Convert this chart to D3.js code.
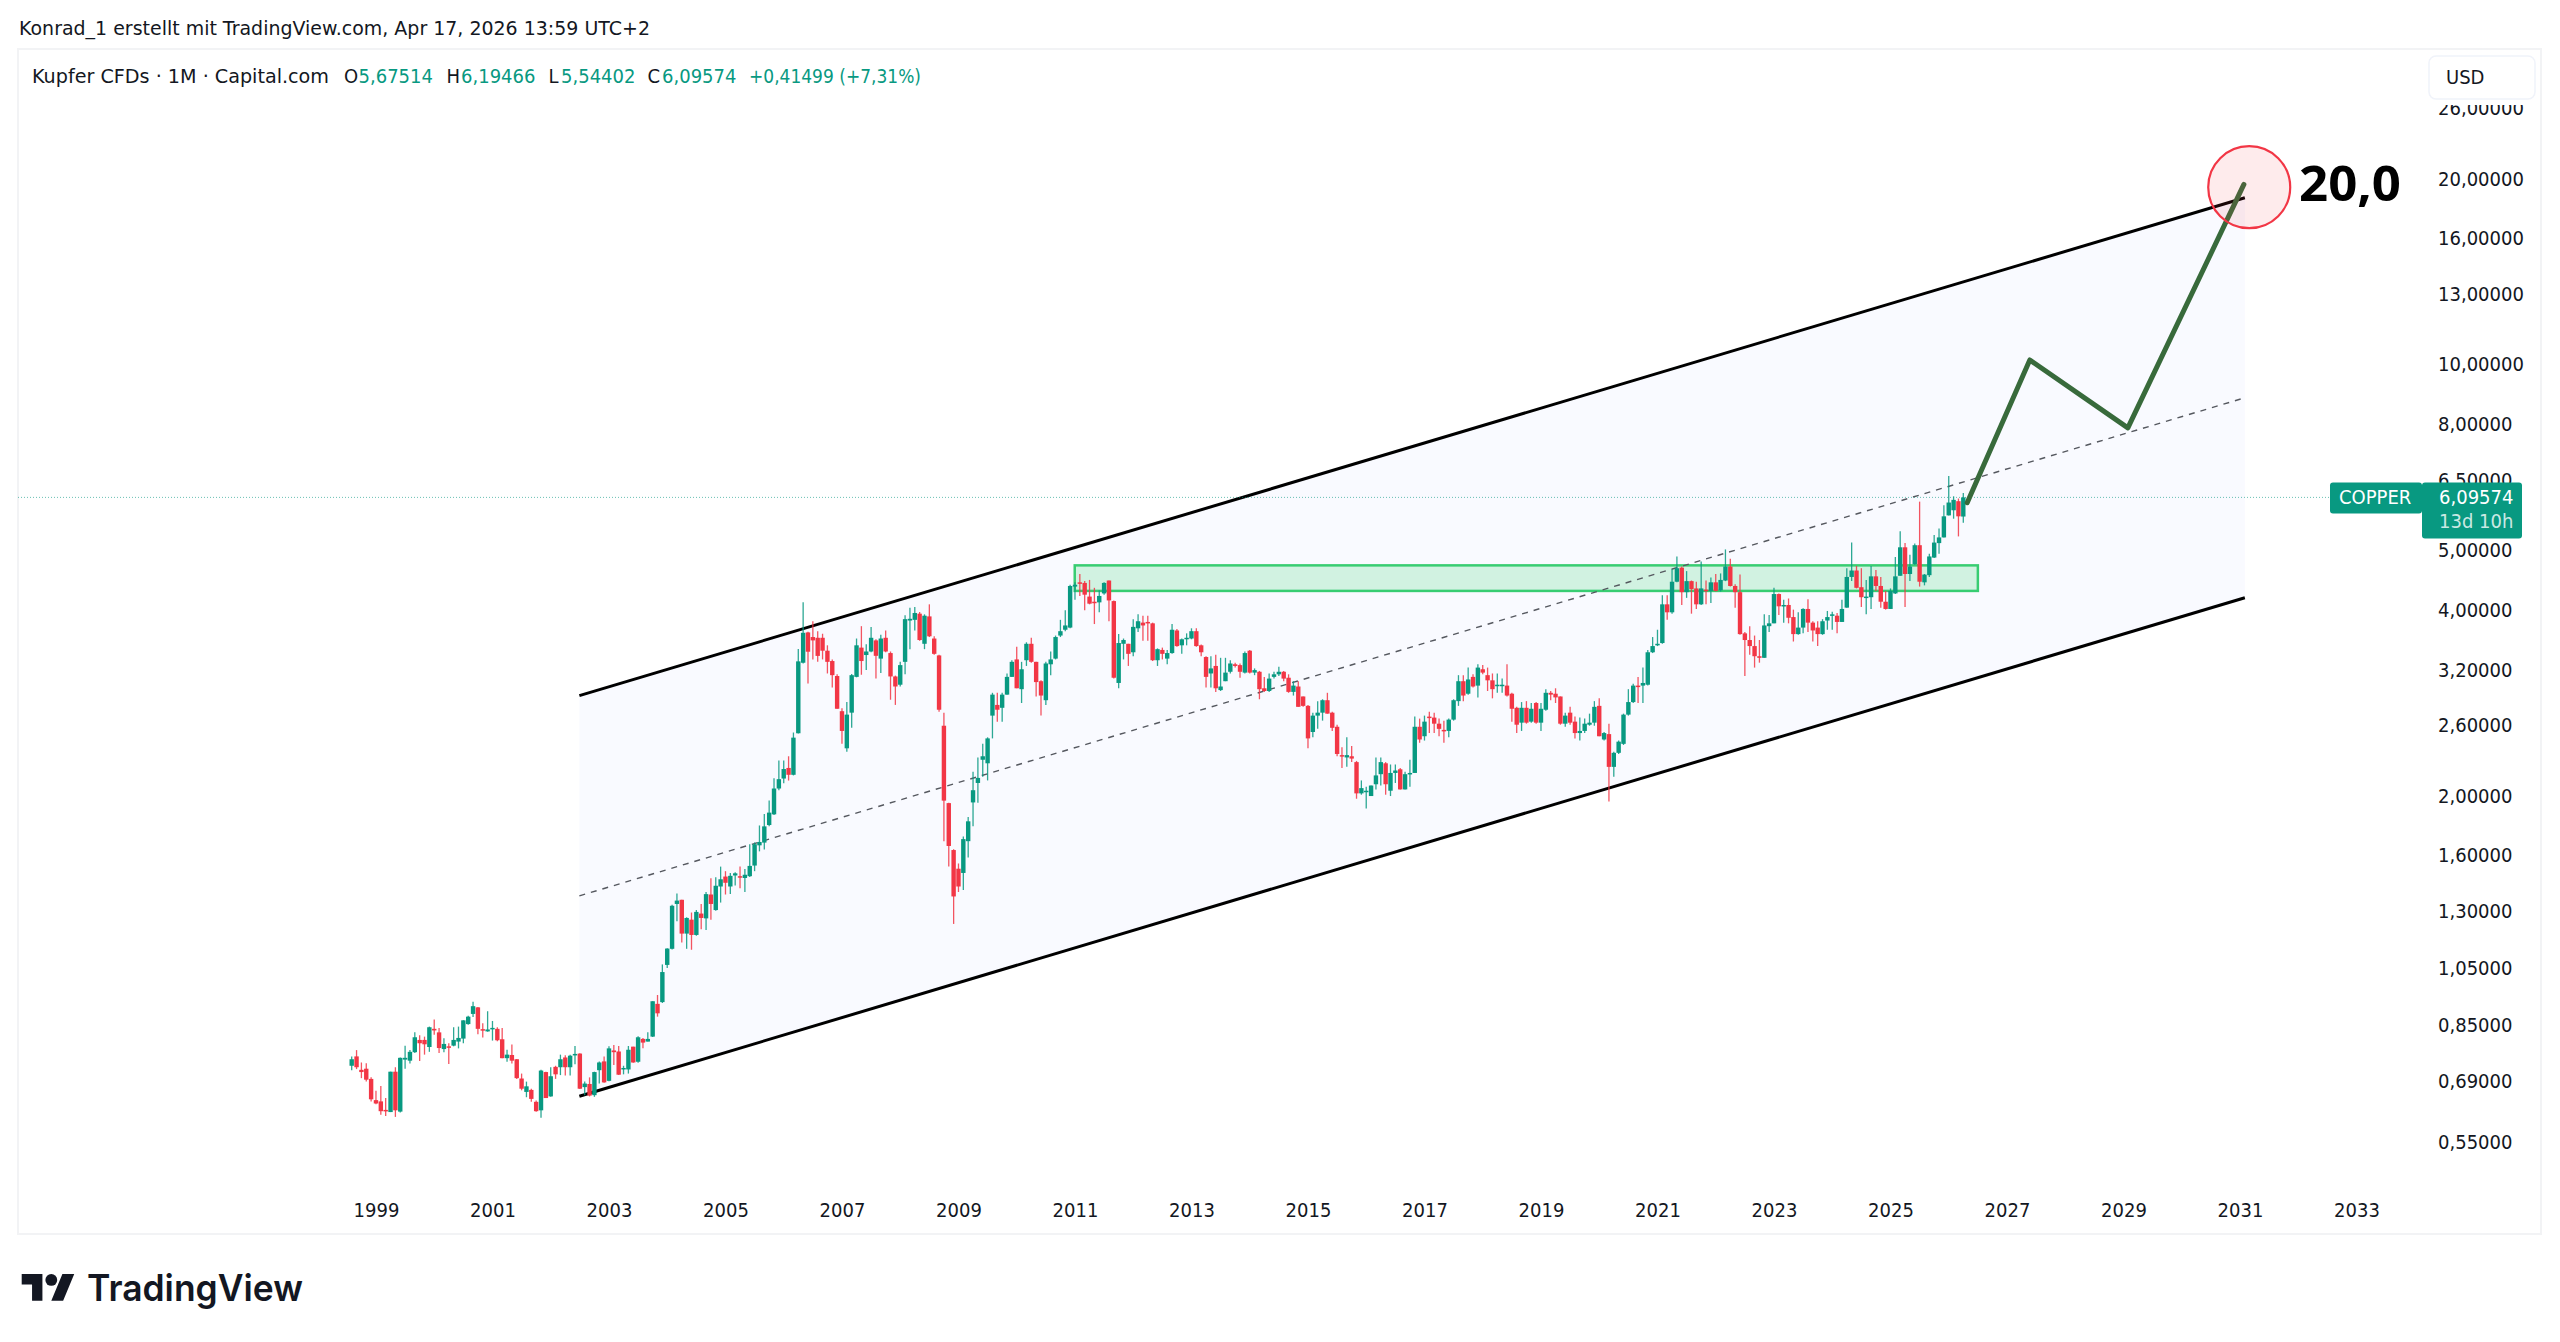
<!DOCTYPE html>
<html>
<head>
<meta charset="utf-8">
<title>Kupfer CFDs</title>
<script src="https://cdn.jsdelivr.net/npm/d3@7/dist/d3.min.js"></script>
<style>
html,body{margin:0;padding:0;background:#fff;}
svg{display:block;}
text{font-family:"DejaVu Sans",sans-serif;fill:#131722;}
</style>
</head>
<body>
<div id="chart"></div>
<script>
// Monthly copper candles, Aug 1998 to Apr 2026 (one entry per month)
const opens = [
.731,.757,.720,.723,.696,.643,.640,.620,.615,.715,
.616,.748,.745,.769,.805,.805,.784,.839,.828,.778,
.786,.788,.800,.809,.854,.887,.909,.838,.831,.839,
.839,.807,.752,.761,.749,.697,.663,.668,.639,.619,
.714,.652,.728,.727,.754,.727,.761,.765,.675,.683,
.655,.719,.743,.691,.774,.771,.722,.721,.785,.742,
.808,.800,.815,.921,.927,1.065,1.131,1.337,1.358,1.197,
1.261,1.191,1.290,1.267,1.385,1.307,1.427,1.481,1.427,1.487,
1.483,1.473,1.483,1.543,1.664,1.681,1.795,1.868,2.057,2.135,
2.221,2.165,2.528,3.289,3.683,3.62,3.61,3.61,3.44,3.31,
3.13,2.745,2.39,2.73,3.12,3.48,3.385,3.43,3.575,3.34,
3.61,3.41,3.125,3.03,3.30,3.85,3.86,3.95,3.53,3.91,
3.60,3.38,2.60,1.948,1.635,1.525,1.501,1.69,1.953,2.10,
2.29,2.26,2.70,2.81,2.78,2.92,3.12,3.33,2.98,3.32,
3.53,3.30,3.07,2.86,3.27,3.34,3.64,3.72,3.75,4.37,
4.44,4.43,4.21,4.13,4.12,4.26,4.47,4.14,3.05,3.53,
3.53,3.42,3.74,3.82,3.83,3.81,3.32,3.45,3.34,3.41,
3.71,3.51,3.60,3.60,3.70,3.51,3.36,3.16,3.25,2.97,
3.07,3.18,3.27,3.26,3.17,3.44,3.17,3.18,2.99,2.96,
3.12,3.15,3.18,3.11,2.95,3.01,2.90,2.80,2.54,2.70,
2.73,2.86,2.73,2.59,2.33,2.31,2.32,2.27,2.02,2.04,
2.00,2.09,2.17,2.26,2.04,2.18,2.21,2.05,2.17,2.18,
2.59,2.50,2.69,2.68,2.62,2.56,2.55,2.66,2.85,3.07,
2.93,3.12,3.02,3.21,3.14,3.08,3.02,3.02,3.02,2.93,
2.78,2.63,2.78,2.64,2.83,2.63,2.76,2.94,2.93,2.90,
2.62,2.73,2.64,2.53,2.55,2.61,2.63,2.80,2.47,2.52,
2.23,2.35,2.43,2.71,2.84,3.02,3.02,3.03,3.42,3.51,
3.54,4.09,3.97,4.45,4.69,4.28,4.46,4.34,4.09,4.32,
4.30,4.44,4.31,4.47,4.71,4.38,4.28,3.67,3.58,3.50,
3.37,3.35,3.77,3.81,4.25,4.07,4.08,3.90,3.66,3.75,
4.02,3.82,3.75,3.66,3.85,3.92,3.92,3.83,4.04,4.53,
4.64,4.36,4.20,4.20,4.54,4.38,4.13,4.02,4.26,4.55,
5.06,4.58,4.75,5.10,4.44,4.56,4.87,5.14,5.25,5.70,
5.81,6.01,5.67514];
const highs = [
.757,.775,.740,.738,.700,.666,.678,.648,.715,.727,
.754,.788,.775,.828,.819,.815,.846,.869,.842,.810,
.795,.844,.846,.866,.881,.928,.910,.857,.896,.864,
.844,.842,.776,.791,.750,.710,.689,.671,.642,.720,
.715,.727,.731,.762,.760,.762,.787,.766,.689,.700,
.715,.743,.757,.786,.790,.787,.731,.787,.785,.816,
.811,.828,.930,.952,1.067,1.133,1.333,1.390,1.358,1.272,
1.295,1.307,1.337,1.398,1.472,1.477,1.537,1.511,1.501,1.505,
1.537,1.523,1.671,1.682,1.792,1.87,1.967,2.137,2.283,2.283,
2.32,2.535,3.462,4.123,3.692,3.84,3.70,3.665,3.51,3.33,
3.15,2.775,2.84,3.155,3.60,3.77,3.525,3.76,3.59,3.65,
3.71,3.43,3.135,3.30,3.925,4.04,4.05,3.975,3.94,4.09,
3.63,3.39,2.73,1.95,1.64,1.555,1.72,1.85,2.19,2.31,
2.43,2.49,2.94,2.94,2.94,3.16,3.32,3.49,3.30,3.55,
3.61,3.30,3.08,3.30,3.43,3.64,3.86,4.00,4.40,4.44,
4.58,4.46,4.48,4.35,4.31,4.44,4.47,4.15,3.66,3.60,
3.53,3.87,3.94,3.92,3.92,3.82,3.47,3.48,3.45,3.80,
3.73,3.60,3.67,3.74,3.74,3.52,3.37,3.37,3.39,3.35,
3.35,3.32,3.29,3.28,3.43,3.45,3.22,3.19,3.12,3.16,
3.18,3.24,3.19,3.15,3.07,3.07,2.90,2.81,2.73,2.85,
2.87,2.94,2.74,2.61,2.40,2.49,2.41,2.28,2.12,2.07,
2.08,2.31,2.31,2.27,2.25,2.25,2.22,2.19,2.29,2.69,
2.67,2.70,2.74,2.73,2.67,2.65,2.67,2.87,3.14,3.14,
3.23,3.15,3.27,3.26,3.23,3.16,3.16,3.10,3.27,2.94,
2.79,2.84,2.85,2.83,2.84,2.83,2.98,2.96,2.99,2.90,
2.73,2.79,2.69,2.68,2.67,2.72,2.85,2.88,2.54,2.62,
2.36,2.46,2.72,2.98,3.04,3.12,3.23,3.45,3.62,3.72,
4.23,4.23,4.66,4.89,4.71,4.63,4.47,4.45,4.80,4.47,
4.52,4.58,4.59,5.02,4.85,4.41,4.57,3.69,3.77,3.64,
3.58,3.94,3.93,4.35,4.26,4.16,4.18,4.01,3.97,4.03,
4.17,3.84,3.84,3.87,3.99,3.98,3.96,4.16,4.68,5.15,
4.72,4.68,4.48,4.72,4.65,4.53,4.30,4.34,4.88,5.37,
5.14,4.92,5.13,6.00,4.58,4.94,5.30,5.43,5.92,6.60,
6.12,6.07,6.19466];
const lows = [
.719,.722,.698,.689,.640,.633,.609,.606,.615,.604,
.614,.723,.737,.767,.744,.762,.770,.821,.767,.769,
.736,.786,.780,.795,.852,.877,.822,.812,.830,.803,
.801,.752,.742,.737,.696,.667,.650,.639,.616,.602,
.648,.651,.696,.706,.705,.705,.735,.670,.655,.652,
.651,.684,.686,.690,.733,.706,.708,.710,.739,.739,
.780,.800,.814,.878,.924,1.053,1.128,1.254,1.158,1.131,
1.127,1.188,1.217,1.213,1.261,1.304,1.344,1.385,1.388,1.432,
1.418,1.398,1.479,1.511,1.627,1.638,1.786,1.864,2.044,2.097,
2.119,2.16,2.525,3.28,3.044,3.33,3.30,3.33,3.16,3.0,
2.77,2.43,2.36,2.58,3.115,3.145,3.20,3.42,3.10,3.165,
3.42,2.865,2.81,3.01,3.15,3.46,3.71,3.57,3.46,3.62,
3.39,2.74,1.69,1.537,1.241,1.398,1.408,1.59,1.786,1.95,
2.15,2.12,2.48,2.64,2.64,2.92,3.12,2.99,2.83,3.25,
3.29,2.90,2.70,2.81,3.14,3.33,3.62,3.70,3.74,4.16,
4.22,4.00,4.09,3.80,3.97,4.24,3.84,3.10,2.99,3.33,
3.25,3.37,3.69,3.57,3.57,3.31,3.25,3.33,3.27,3.40,
3.49,3.40,3.51,3.59,3.49,3.37,3.00,3.00,2.95,2.96,
3.07,3.16,3.23,3.11,3.16,3.16,3.14,2.87,2.95,2.95,
3.10,3.13,3.07,2.94,2.91,2.79,2.79,2.39,2.49,2.57,
2.65,2.72,2.55,2.32,2.22,2.23,2.27,1.98,2.01,1.91,
2.00,2.05,2.08,2.01,2.00,2.10,2.05,2.05,2.07,2.18,
2.44,2.46,2.53,2.53,2.50,2.44,2.49,2.65,2.80,2.85,
2.92,3.00,2.89,3.15,2.96,2.88,2.94,2.94,2.90,2.64,
2.53,2.55,2.62,2.63,2.62,2.55,2.75,2.86,2.83,2.61,
2.59,2.61,2.48,2.46,2.53,2.60,2.60,2.50,2.46,1.96,
2.15,2.34,2.42,2.70,2.83,2.83,2.83,3.02,3.41,3.50,
3.53,3.86,3.95,4.44,4.08,4.19,3.95,4.02,4.08,4.09,
4.11,4.29,4.29,4.46,4.37,4.04,3.65,3.13,3.39,3.23,
3.29,3.35,3.69,3.81,3.93,3.82,3.81,3.56,3.65,3.67,
3.69,3.56,3.50,3.65,3.72,3.72,3.67,3.83,4.04,4.46,
4.34,4.05,3.94,4.02,4.30,4.04,4.01,4.02,4.25,4.55,
4.05,4.46,4.74,4.37,4.39,4.53,4.86,4.94,5.25,5.70,
5.63,5.27,5.54402];
const closes = [
.749,.727,.714,.694,.645,.635,.617,.619,.715,.619,
.753,.753,.770,.813,.795,.792,.844,.834,.781,.793,
.783,.805,.811,.866,.878,.913,.839,.834,.837,.842,
.804,.752,.762,.745,.698,.671,.677,.646,.617,.718,
.648,.703,.708,.749,.727,.759,.764,.671,.684,.654,
.714,.740,.687,.780,.769,.707,.725,.776,.740,.813,
.797,.808,.930,.889,1.037,1.132,1.328,1.354,1.197,1.269,
1.191,1.298,1.269,1.387,1.337,1.431,1.466,1.447,1.485,1.499,
1.479,1.491,1.541,1.671,1.685,1.786,1.880,2.057,2.130,2.212,
2.165,2.487,3.306,3.678,3.427,3.575,3.374,3.44,3.30,3.14,
2.77,2.55,2.71,3.14,3.51,3.31,3.43,3.61,3.375,3.60,
3.43,3.125,3.01,3.26,3.87,3.875,3.96,3.58,3.92,3.63,
3.40,2.76,1.966,1.66,1.375,1.427,1.703,1.82,2.044,2.14,
2.32,2.48,2.92,2.76,2.92,3.12,3.30,2.99,3.21,3.53,
3.30,3.06,2.91,3.28,3.33,3.62,3.70,3.78,4.38,4.40,
4.43,4.24,4.10,4.12,4.22,4.43,4.15,3.11,3.54,3.58,
3.40,3.76,3.84,3.78,3.81,3.32,3.46,3.40,3.41,3.72,
3.50,3.59,3.61,3.70,3.50,3.42,3.12,3.22,2.99,3.01,
3.17,3.28,3.25,3.18,3.41,3.17,3.20,2.98,2.96,3.10,
3.15,3.18,3.10,2.95,3.02,2.79,2.80,2.48,2.70,2.73,
2.86,2.72,2.58,2.34,2.32,2.33,2.30,2.02,2.06,2.04,
2.08,2.16,2.27,2.09,2.18,2.20,2.05,2.17,2.18,2.59,
2.47,2.64,2.68,2.62,2.57,2.55,2.66,2.86,3.07,2.91,
3.09,3.01,3.23,3.17,3.08,2.98,3.03,3.03,2.91,2.77,
2.61,2.78,2.63,2.77,2.63,2.77,2.94,2.92,2.89,2.62,
2.70,2.63,2.53,2.55,2.62,2.63,2.79,2.50,2.53,2.23,
2.35,2.45,2.71,2.84,3.02,3.01,3.05,3.42,3.50,3.53,
4.09,3.97,4.45,4.68,4.28,4.46,4.33,4.09,4.34,4.30,
4.44,4.30,4.48,4.71,4.38,4.28,3.66,3.58,3.50,3.37,
3.35,3.78,3.81,4.25,4.06,4.08,3.89,3.66,3.75,4.02,
3.82,3.71,3.66,3.84,3.90,3.94,3.83,4.02,4.53,4.64,
4.35,4.20,4.21,4.54,4.38,4.13,4.02,4.30,4.54,5.06,
4.58,4.71,5.10,4.45,4.57,4.89,5.15,5.25,5.68,5.98,
6.04,5.68,6.09574];

// Axis ticks
const priceTicks = [26,20,16,13,10,8,6.5,5,4,3.2,2.6,2,1.6,1.3,1.05,0.85,0.69,0.55];
const yearTicks = [1999,2001,2003,2005,2007,2009,2011,2013,2015,2017,2019,2021,2023,2025,2027,2029,2031,2033];

// Drawing tools, anchored in months since Aug 1998 and in price
const channelMonths = [46.9, 390];
const channelUpper = [2.909, 18.65];
const channelMiddle = [1.378, 8.84];
const channelLower = [0.6525, 4.192];
const zoneMonths = [148.95, 335];
const zonePrices = [4.73, 4.30];
const forecastMonths = [332.8, 345.7, 365.9, 389.8];
const forecastPrices = [5.975, 10.18, 7.90, 19.6];
const targetMonth = 390.9;
const targetPrice = 19.4;

// Text content
const headerText = "Konrad_1 erstellt mit TradingView.com, Apr 17, 2026 13:59 UTC+2";
const symbolText = "Kupfer CFDs · 1M · Capital.com";
const changeText = "+0,41499 (+7,31%)";
const countdownText = "13d 10h";

const GREEN = "#089981", RED = "#f23645", INK = "#131722";
const W = 2560, H = 1342;

const x = d3.scaleLinear().domain([0, 332]).range([351.7, 1963.3]);
const y = d3.scaleLog().domain([20, 0.55]).range([179, 1142]);
const monthOf = year => (year - 1998) * 12 - 7;
const price = v => d3.format(".5f")(v).replace(".", ",");
const last = closes.length - 1;

// Chart text: set tall and slightly narrowed so numerals keep their tabular width
const narrowed = sel => sel.attr("font-size", 19)
  .style("font-family", '"DejaVu Sans",sans-serif')
  .attr("lengthAdjust", "spacingAndGlyphs")
  .attr("textLength", function () { return this.getComputedTextLength() * 18 / 19; });

const svg = d3.select("#chart").append("svg").attr("width", W).attr("height", H);

// Pane frame
svg.append("rect").attr("x", 18).attr("y", 49).attr("width", 2523).attr("height", 1185)
  .attr("fill", "#fff").attr("stroke", "#f2f3f5").attr("stroke-width", 2);

// Header line
svg.append("text").attr("x", 19).attr("y", 34.5).attr("font-size", 19)
  .attr("textLength", 631).attr("lengthAdjust", "spacingAndGlyphs").text(headerText);

// Parallel channel: shaded band and its three lines
const bandPath = d3.line().x(d => d[0]).y(d => d[1]);
const xA = x(channelMonths[0]), xB = x(channelMonths[1]);
svg.append("path")
  .attr("d", bandPath([[xA, y(channelUpper[0])], [xB, y(channelUpper[1])], [xB, y(channelLower[1])], [xA, y(channelLower[0])]]) + "Z")
  .attr("fill", "#f9faff");

// Breakout zone
svg.append("rect")
  .attr("x", x(zoneMonths[0])).attr("y", y(zonePrices[0]))
  .attr("width", x(zoneMonths[1]) - x(zoneMonths[0]))
  .attr("height", y(zonePrices[1]) - y(zonePrices[0]))
  .attr("fill", "#d1f2e1").attr("stroke", "#38cd72").attr("stroke-width", 2.5);

const channelLine = (vals, w, dash, color) => svg.append("line")
  .attr("x1", xA).attr("y1", y(vals[0])).attr("x2", xB).attr("y2", y(vals[1]))
  .attr("stroke", color).attr("stroke-width", w).attr("stroke-dasharray", dash);
channelLine(channelMiddle, 1.4, "6 6", "#55585f");
channelLine(channelUpper, 3, null, "#000");
channelLine(channelLower, 3, null, "#000");

// Last-price line
svg.append("line").attr("x1", 18).attr("x2", 2330)
  .attr("y1", y(closes[last])).attr("y2", y(closes[last]))
  .attr("stroke", GREEN).attr("stroke-width", 1).attr("stroke-dasharray", "1 2").attr("opacity", 0.6);

// Candles
const candles = svg.append("g").selectAll("g").data(closes).join("g")
  .attr("fill", (d, i) => d >= opens[i] ? GREEN : RED)
  .attr("stroke", (d, i) => d >= opens[i] ? GREEN : RED);
candles.append("line")
  .attr("x1", (d, i) => x(i)).attr("x2", (d, i) => x(i))
  .attr("y1", (d, i) => y(highs[i])).attr("y2", (d, i) => y(lows[i]))
  .attr("stroke-width", 1.3).attr("stroke-opacity", 0.85);
candles.append("rect")
  .attr("x", (d, i) => x(i) - 2.2)
  .attr("width", 4.4)
  .attr("y", (d, i) => Math.min(y(opens[i]), y(d)))
  .attr("height", (d, i) => Math.max(1.5, Math.abs(y(opens[i]) - y(d))))
  .attr("stroke", "none");

// Forecast path
svg.append("path")
  .attr("d", d3.line().x((d, i) => x(forecastMonths[i])).y(d => y(d))(forecastPrices))
  .attr("fill", "none").attr("stroke", "#386a3b").attr("stroke-width", 5)
  .attr("stroke-linejoin", "round").attr("stroke-linecap", "round");

// Target marker and label
svg.append("circle").attr("cx", x(targetMonth)).attr("cy", y(targetPrice)).attr("r", 41)
  .attr("fill", RED).attr("fill-opacity", 0.1).attr("stroke", RED).attr("stroke-width", 2.2);
svg.append("text").attr("x", 2299).attr("y", 201)
  .attr("font-size", 49).attr("font-weight", 700).style("font-family", '"Noto Sans",sans-serif')
  .attr("textLength", 102).attr("lengthAdjust", "spacingAndGlyphs").style("fill", "#000").text("20,0");

// Axes
const clip = svg.append("clipPath").attr("id", "scaleClip");
clip.append("rect").attr("x", -13).attr("y", 105).attr("width", 115).attr("height", 1125);
const yAxis = d3.axisRight(y).tickValues(priceTicks).tickSize(0).tickPadding(0).tickFormat(price);
svg.append("g").attr("transform", "translate(2438,0)").attr("clip-path", "url(#scaleClip)")
  .attr("class", "axis").call(yAxis);
const xAxis = d3.axisBottom(x).tickValues(yearTicks.map(monthOf)).tickSize(0).tickPadding(0)
  .tickFormat(m => String(1998 + (m + 7) / 12));
svg.append("g").attr("transform", "translate(0,1203.5)").attr("class", "axis").call(xAxis);
svg.selectAll(".axis .domain").remove();
svg.selectAll(".axis text").style("fill", INK).call(narrowed);

// Currency button
svg.append("rect").attr("x", 2429).attr("y", 56).attr("width", 106).attr("height", 43).attr("rx", 7)
  .attr("fill", "#fff").attr("stroke", "#f0f3fa").attr("stroke-width", 1.5);
svg.append("text").attr("x", 2446).attr("y", 83.5).text("USD").call(narrowed);

// Last-price tags
const tagY = y(closes[last]);
svg.append("rect").attr("x", 2330).attr("y", tagY - 15).attr("width", 92).attr("height", 31).attr("rx", 3).attr("fill", GREEN);
svg.append("rect").attr("x", 2422).attr("y", tagY - 15).attr("width", 100).attr("height", 56).attr("rx", 3).attr("fill", GREEN);
svg.append("text").attr("x", 2339).attr("y", tagY + 7).style("fill", "#fff").text("COPPER").call(narrowed);
svg.append("text").attr("x", 2439).attr("y", tagY + 7).style("fill", "#fff").text(price(closes[last])).call(narrowed);
svg.append("text").attr("x", 2439).attr("y", tagY + 30.5).style("fill", "#fff").style("fill-opacity", 0.8).text(countdownText).call(narrowed);

// Symbol legend
const legendY = 83;
svg.append("text").attr("x", 32).attr("y", legendY).attr("font-size", 19)
  .attr("textLength", 297).attr("lengthAdjust", "spacingAndGlyphs").text(symbolText);
const ohlc = [["O", opens[last], 344], ["H", highs[last], 446.5], ["L", lows[last], 548.5], ["C", closes[last], 647.5]];
const legend = svg.append("g").selectAll("g").data(ohlc).join("g");
legend.append("text").attr("x", d => d[2]).attr("y", legendY).text(d => d[0]).call(narrowed);
legend.append("text").attr("x", d => d[2] + (d[0] === "L" ? 12.5 : 14.5)).attr("y", legendY)
  .style("fill", GREEN).text(d => price(d[1])).call(narrowed);
svg.append("text").attr("x", 749).attr("y", legendY).attr("font-size", 19)
  .attr("textLength", 172).attr("lengthAdjust", "spacingAndGlyphs").style("fill", GREEN).text(changeText);

// Brand mark and wordmark
const brand = svg.append("g").attr("transform", "translate(21.7,1268.1) scale(1.48)").attr("fill", INK);
brand.append("path").attr("d", "M14 22H7V11H0V4h14v18zM28 22h-8l7.5-18h8L28 22z");
brand.append("circle").attr("cx", 20).attr("cy", 8).attr("r", 4);
svg.append("text").attr("x", 87).attr("y", 1301).attr("font-size", 37).attr("font-weight", 600)
  .style("font-family", 'Inter,sans-serif').attr("textLength", 216).attr("lengthAdjust", "spacingAndGlyphs").text("TradingView");
</script>
</body>
</html>
